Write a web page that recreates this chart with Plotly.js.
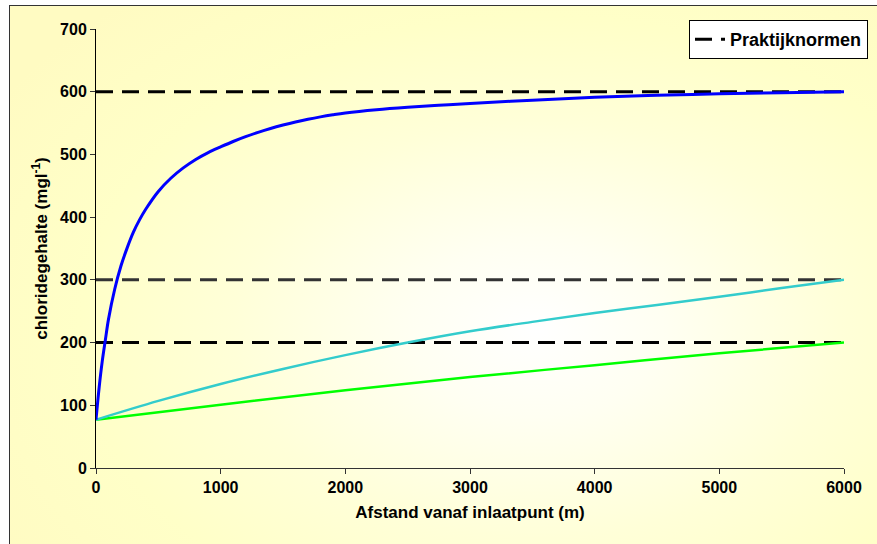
<!DOCTYPE html>
<html>
<head>
<meta charset="utf-8">
<script src="https://cdn.plot.ly/plotly-3.0.1.min.js"></script>
<style>
  html, body { margin: 0; padding: 0; background: #ffffff; }
  #wrap { position: relative; width: 877px; height: 544px; overflow: hidden; background: #ffffff; }
  #frame { position: absolute; left: 9px; top: 5px; width: 880px; height: 560px;
           border: 1.5px solid #333333; box-sizing: border-box;
           background: radial-gradient(ellipse 72% 78% at 60% 58%, #ffffff 0%, #fffff2 20%, #ffffd8 48%, #ffffc8 72%, #fffbc2 100%); }
  #chart { position: absolute; left: 0; top: 0; width: 877px; height: 544px; }
</style>
</head>
<body>
<div id="wrap">
  <div id="frame"></div>
  <div id="chart"></div>
</div>
<script>
// Distance from inlet point (m) and chloride content (mg/l)
const blueX  = [0, 25, 50, 75, 100, 150, 200, 250, 300, 350, 400, 500, 600, 700, 800, 900, 1000, 1100, 1200, 1300, 1400, 1500, 1600, 1700, 1800, 1900, 2000, 2250, 2500, 2750, 3000, 3500, 4000, 4500, 5000, 5500, 6000];
const blueY  = [77, 128, 170, 204, 237, 285, 322, 351, 376, 396, 413, 441, 462, 478.5, 492, 503, 512, 520.6, 528.3, 535.2, 541.4, 546.9, 551.8, 556.1, 559.9, 563.2, 566.1, 571.3, 575.2, 578.4, 581.2, 586.5, 591, 594.2, 596.6, 598.5, 600];

const cyanX  = [0, 500, 1000, 1500, 2000, 2500, 3000, 3500, 4000, 4500, 5000, 5500, 6000];
const cyanY  = [77, 107, 134, 158, 180, 200, 218, 233, 247, 260, 273, 287, 300];

const greenX = [0, 1000, 2000, 3000, 4000, 5000, 6000];
const greenY = [77, 101, 124, 145, 164, 183, 200];

// Practice norms (mg/l)
const normLevels = [600, 300, 200];
const normColors = ['#000000', '#333333', '#000000'];
const normX = [0, 6000];

const xTicks = [0, 1000, 2000, 3000, 4000, 5000, 6000];
const yTicks = [0, 100, 200, 300, 400, 500, 600, 700];

const traces = [];
normLevels.forEach((lvl, i) => {
  traces.push({
    x: normX, y: normX.map(() => lvl), mode: 'lines', type: 'scatter',
    name: 'Praktijknormen', legendgroup: 'norm', showlegend: i === 0,
    line: { color: normColors[i], width: 3, dash: '17px,9px' }
  });
});
traces.push({ x: greenX, y: greenY, mode: 'lines', type: 'scatter', showlegend: false,
  line: { color: '#00ff00', width: 2.5, shape: 'spline', smoothing: 1 } });
traces.push({ x: cyanX, y: cyanY, mode: 'lines', type: 'scatter', showlegend: false,
  line: { color: '#33cccc', width: 2.5, shape: 'spline', smoothing: 1 } });
traces.push({ x: blueX, y: blueY, mode: 'lines', type: 'scatter', showlegend: false,
  line: { color: '#0000ff', width: 3, shape: 'spline', smoothing: 1 } });

const FAM = 'Liberation Sans, Arial, sans-serif';

const layout = {
  width: 877, height: 544,
  margin: { l: 96, r: 33, t: 29, b: 76, autoexpand: false },
  paper_bgcolor: 'rgba(0,0,0,0)',
  plot_bgcolor: 'rgba(0,0,0,0)',
  font: { family: FAM, size: 14, color: '#000000' },
  showlegend: true,
  legend: {
    x: (868 - 96) / 748, y: (468 - 20) / 439, xanchor: 'right', yanchor: 'top',
    bgcolor: '#ffffff', bordercolor: '#000000', borderwidth: 1,
    font: { family: FAM, size: 18, color: '#000000', weight: 'bold' },
    itemwidth: 30, tracegroupgap: 0
  },
  xaxis: {
    range: [0, 6000], tickvals: xTicks, ticktext: xTicks.map(String),
    showgrid: false, zeroline: false, showline: true, linecolor: '#333333', linewidth: 1,
    ticks: 'outside', ticklen: 5, tickcolor: '#333333',
    tickfont: { family: FAM, size: 16, color: '#000000', weight: 'bold' },
    title: { text: 'Afstand vanaf inlaatpunt (m)', standoff: 10,
      font: { family: FAM, size: 17, color: '#000000', weight: 'bold' } }
  },
  yaxis: {
    range: [0, 700], tickvals: yTicks, ticktext: yTicks.map(String),
    showgrid: false, zeroline: false, showline: true, linecolor: '#000000', linewidth: 1,
    ticks: 'outside', ticklen: 5, tickcolor: '#333333',
    tickfont: { family: FAM, size: 16, color: '#000000', weight: 'bold' },
    title: { text: 'chloridegehalte (mgl<sup>-1</sup>)', standoff: 8,
      font: { family: FAM, size: 17, color: '#000000', weight: 'bold' } }
  }
};

Plotly.newPlot('chart', traces, layout, { staticPlot: true, displayModeBar: false });
</script>
</body>
</html>
